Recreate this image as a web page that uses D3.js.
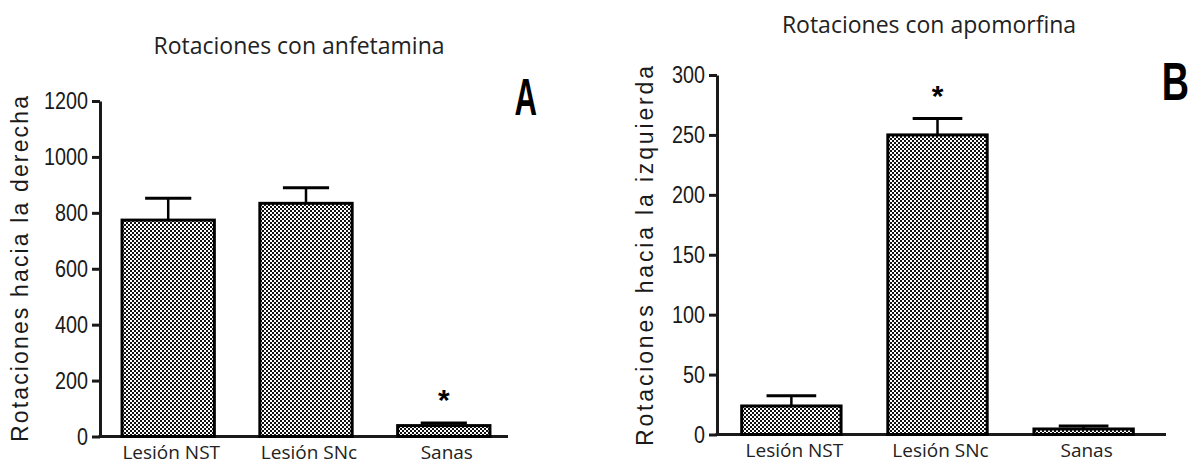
<!DOCTYPE html>
<html>
<head>
<meta charset="utf-8">
<script src="https://cdn.jsdelivr.net/npm/d3@7"></script>
<style>
  body { margin: 0; background: #fff; }
  .tick text { font-family: "Liberation Sans", Arial, sans-serif; font-size: 24px; fill: #1a1a1a; }
  .ytitle { font-family: "Liberation Sans", Arial, sans-serif; font-size: 23px; fill: #1a1a1a; }
  .title { font-family: "Open Sans", "Noto Sans", sans-serif; font-size: 23px; fill: #222; }
  .xlabel { font-family: "Open Sans", "Noto Sans", sans-serif; font-size: 19px; fill: #222; }
  .letter { font-family: "Liberation Sans", Arial, sans-serif; font-weight: bold; fill: #000; }
  .star { font-family: "Liberation Sans", Arial, sans-serif; font-weight: bold; font-size: 30px; fill: #000; }
</style>
</head>
<body>
<script>
var width = 1192, height = 465;

var categories = ["Lesión NST", "Lesión SNc", "Sanas"];

// rotaciones con anfetamina (panel A)
var anfetaminaMeans = [774, 834, 39];
var anfetaminaErrors = [78, 56, 9];
var anfetaminaStars = [false, false, true];
var anfetaminaTicks = [0, 200, 400, 600, 800, 1000, 1200];

// rotaciones con apomorfina (panel B)
var apomorfinaMeans = [23.8, 250, 4.6];
var apomorfinaErrors = [8.6, 13.6, 2.5];
var apomorfinaStars = [false, true, false];
var apomorfinaTicks = [0, 50, 100, 150, 200, 250, 300];

var svg = d3.select("body").append("svg")
            .attr("width", width).attr("height", height);

var pattern = svg.append("defs").append("pattern")
                 .attr("id", "checker").attr("patternUnits", "userSpaceOnUse")
                 .attr("width", 4).attr("height", 4);
pattern.append("rect").attr("width", 4).attr("height", 4).attr("fill", "#fff");
pattern.append("rect").attr("width", 2).attr("height", 2).attr("fill", "#111");
pattern.append("rect").attr("x", 2).attr("y", 2).attr("width", 2).attr("height", 2).attr("fill", "#111");

function drawPanel(p) {
    var x = d3.scaleBand().domain(categories)
              .range([p.left, p.right]).paddingInner(p.padIn).paddingOuter(p.padOut);
    var y = d3.scaleLinear().domain([0, p.max]).range([p.bottom, p.top]);

    var rows = categories.map(function(c, i) {
        return {name: c, mean: p.means[i], err: p.errors[i], star: p.stars[i]};
    });

    // y axis
    var yAxis = svg.append("g").attr("transform", "translate(" + p.left + ",0)")
                   .call(d3.axisLeft(y).tickValues(p.ticks).tickFormat(d3.format("d"))
                           .tickSize(8).tickPadding(4).tickSizeOuter(0));
    yAxis.select(".domain").attr("stroke", "#1a1a1a").attr("stroke-width", 3);
    yAxis.selectAll(".tick line").attr("stroke", "#1a1a1a").attr("stroke-width", 3);
    // condensed digits like the original
    yAxis.selectAll(".tick text")
         .attr("textLength", function(d) { return String(d).length * 11; })
         .attr("lengthAdjust", "spacingAndGlyphs");

    // x baseline
    svg.append("line").attr("x1", p.left - 1.5).attr("x2", p.axisEnd)
       .attr("y1", y(0)).attr("y2", y(0))
       .attr("stroke", "#1a1a1a").attr("stroke-width", 3);

    // bars
    svg.append("g").selectAll("rect").data(rows).enter().append("rect")
       .attr("x", function(d) { return x(d.name); })
       .attr("width", x.bandwidth())
       .attr("y", function(d) { return y(d.mean); })
       .attr("height", function(d) { return y(0) - y(d.mean); })
       .attr("fill", "url(#checker)")
       .attr("stroke", "#000").attr("stroke-width", 3);

    // error bars
    var errs = svg.append("g").selectAll("g").data(rows).enter().append("g");
    errs.append("line")
        .attr("x1", function(d) { return x(d.name) + x.bandwidth() / 2; })
        .attr("x2", function(d) { return x(d.name) + x.bandwidth() / 2; })
        .attr("y1", function(d) { return y(d.mean); })
        .attr("y2", function(d) { return y(d.mean + d.err); })
        .attr("stroke", "#000").attr("stroke-width", 2.5);
    errs.append("line")
        .attr("x1", function(d) { return x(d.name) + x.bandwidth() / 4; })
        .attr("x2", function(d) { return x(d.name) + x.bandwidth() * 3 / 4; })
        .attr("y1", function(d) { return y(d.mean + d.err); })
        .attr("y2", function(d) { return y(d.mean + d.err); })
        .attr("stroke", "#000").attr("stroke-width", 3);

    // significance stars
    svg.append("g").selectAll("text").data(rows.filter(function(d) { return d.star; }))
       .enter().append("text").classed("star", true)
       .attr("x", function(d) { return x(d.name) + x.bandwidth() / 2; })
       .attr("y", function(d) { return y(d.mean + d.err) - 13; })
       .attr("text-anchor", "middle")
       .text("*");

    // category labels
    svg.append("g").selectAll("text").data(rows).enter().append("text").classed("xlabel", true)
       .attr("x", function(d) { return x(d.name) + x.bandwidth() / 2 + 3; })
       .attr("y", p.bottom + 22)
       .attr("text-anchor", "middle")
       .text(function(d) { return d.name; });

    // y axis title
    svg.append("text").classed("ytitle", true)
       .attr("transform", "translate(" + p.ytX + "," + p.ytY + ") rotate(-90)")
       .attr("text-anchor", "middle")
       .attr("textLength", p.ytLen).attr("lengthAdjust", "spacing")
       .text(p.yTitle);

    svg.append("text").classed("title", true)
       .attr("x", p.titleX).attr("y", p.titleY)
       .attr("text-anchor", "middle")
       .text(p.title);

    // panel letter, squeezed horizontally (condensed bold in the original)
    svg.append("text").classed("letter", true)
       .attr("transform", "translate(" + p.letterX + "," + p.letterY + ") scale(" + p.letterSx + ",1)")
       .attr("text-anchor", "end")
       .style("font-size", p.letterSize + "px")
       .text(p.letter);
}

drawPanel({
    means: anfetaminaMeans, errors: anfetaminaErrors, stars: anfetaminaStars, ticks: anfetaminaTicks,
    max: 1200, left: 100, right: 512, axisEnd: 508, padIn: 0.33, padOut: 0.16,
    top: 101, bottom: 436.5,
    yTitle: "Rotaciones hacia la derecha", ytX: 28, ytY: 269, ytLen: 346,
    title: "Rotaciones con anfetamina", titleX: 299, titleY: 54,
    letter: "A", letterX: 537, letterY: 115, letterSize: 52, letterSx: 0.6
});

drawPanel({
    means: apomorfinaMeans, errors: apomorfinaErrors, stars: apomorfinaStars, ticks: apomorfinaTicks,
    max: 300, left: 717, right: 1158, axisEnd: 1166, padIn: 0.32, padOut: 0.169,
    top: 75, bottom: 434.5,
    yTitle: "Rotaciones hacia la izquierda", ytX: 653, ytY: 256, ytLen: 380,
    title: "Rotaciones con apomorfina", titleX: 929, titleY: 33,
    letter: "B", letterX: 1189, letterY: 100, letterSize: 54, letterSx: 0.7
});
</script>
</body>
</html>
